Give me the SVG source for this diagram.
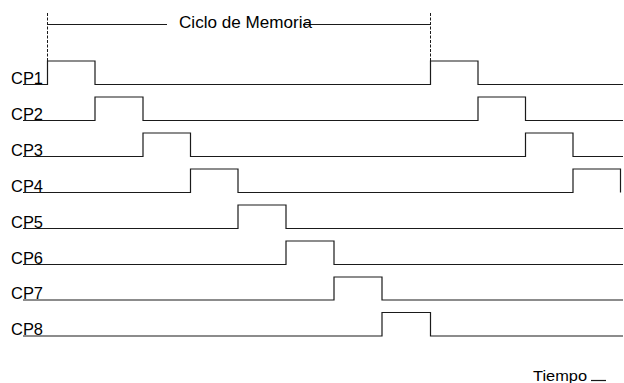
<svg xmlns="http://www.w3.org/2000/svg" width="624" height="383" viewBox="0 0 624 383">
  <style>
    .sig { fill: none; stroke: #1a1a1a; stroke-width: 1.2; }
    .mark { fill: none; stroke: #1a1a1a; stroke-width: 1; stroke-dasharray: 3 1.5; }
    .rule { fill: none; stroke: #1a1a1a; stroke-width: 1.2; }
    .lbl { font-family: "Liberation Sans", Arial, sans-serif; font-size: 16.5px; fill: #000; }
  </style>
  <rect width="624" height="383" fill="#fff"/>

  <!-- memory cycle span -->
  <g id="cycle">
    <line class="mark" x1="47.5" y1="13" x2="47.5" y2="61"/>
    <line class="mark" x1="430.5" y1="13" x2="430.5" y2="61"/>
    <line class="rule" x1="47.5" y1="24.5" x2="167" y2="24.5"/>
    <line class="rule" x1="303" y1="24.5" x2="430.5" y2="24.5"/>
    <text class="lbl" x="179" y="27.5" style="font-size:17px" textLength="133" lengthAdjust="spacingAndGlyphs">Ciclo de Memoria</text>
  </g>

  <!-- clock phase waveforms -->
  <g id="waves">
    <g id="cp1">
      <text class="lbl" x="11" y="83.5" textLength="32" lengthAdjust="spacingAndGlyphs">CP1</text>
      <polyline class="sig" points="23,84.5 47.5,84.5 47.5,61 95,61 95,84.5 430.5,84.5 430.5,61 478,61 478,84.5 623,84.5"/>
    </g>
    <g id="cp2">
      <text class="lbl" x="11" y="119.5" textLength="32" lengthAdjust="spacingAndGlyphs">CP2</text>
      <polyline class="sig" points="23,120.5 95,120.5 95,97 143,97 143,120.5 478,120.5 478,97 525.5,97 525.5,120.5 623,120.5"/>
    </g>
    <g id="cp3">
      <text class="lbl" x="11" y="155.5" textLength="32" lengthAdjust="spacingAndGlyphs">CP3</text>
      <polyline class="sig" points="23,156.5 143,156.5 143,133 190.5,133 190.5,156.5 525.5,156.5 525.5,133 573,133 573,156.5 623,156.5"/>
    </g>
    <g id="cp4">
      <text class="lbl" x="11" y="191.5" textLength="32" lengthAdjust="spacingAndGlyphs">CP4</text>
      <polyline class="sig" points="23,192.5 190.5,192.5 190.5,169 238,169 238,192.5 573,192.5 573,169 620.5,169 620.5,192.5"/>
    </g>
    <g id="cp5">
      <text class="lbl" x="11" y="227.5" textLength="32" lengthAdjust="spacingAndGlyphs">CP5</text>
      <polyline class="sig" points="23,228.5 238,228.5 238,205 286,205 286,228.5 623,228.5"/>
    </g>
    <g id="cp6">
      <text class="lbl" x="11" y="263.5" textLength="32" lengthAdjust="spacingAndGlyphs">CP6</text>
      <polyline class="sig" points="23,264.5 286,264.5 286,241 334,241 334,264.5 623,264.5"/>
    </g>
    <g id="cp7">
      <text class="lbl" x="11" y="299" textLength="32" lengthAdjust="spacingAndGlyphs">CP7</text>
      <polyline class="sig" points="23,300 334,300 334,277 382,277 382,300 623,300"/>
    </g>
    <g id="cp8">
      <text class="lbl" x="11" y="335" textLength="32" lengthAdjust="spacingAndGlyphs">CP8</text>
      <polyline class="sig" points="23,336 382,336 382,312.5 430.5,312.5 430.5,336 623,336"/>
    </g>
  </g>

  <!-- time axis legend -->
  <g id="time">
    <text class="lbl" x="533" y="381" style="font-size:15px" textLength="54" lengthAdjust="spacingAndGlyphs">Tiempo</text>
    <line class="rule" x1="591" y1="380.5" x2="606" y2="380.5"/>
  </g>
</svg>
